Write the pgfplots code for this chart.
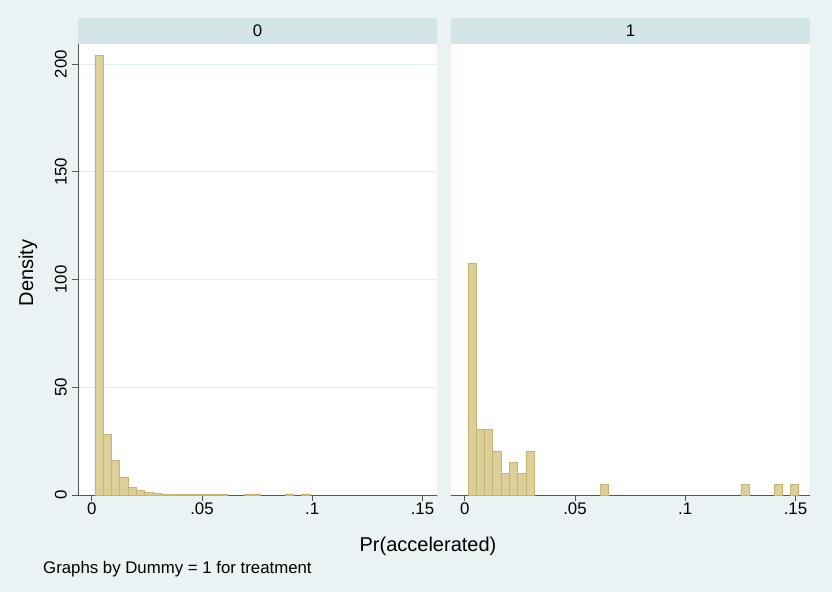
\documentclass[border=0pt]{standalone}
\usepackage{fontspec}
\setmainfont{Liberation Sans}
\usepackage{pgfplots}
\pgfplotsset{compat=1.18}
\definecolor{bg}{HTML}{EAF2F3}
\definecolor{strip}{HTML}{D4E5E8}
\definecolor{gridc}{HTML}{E4EEEF}
\definecolor{barfill}{HTML}{DCCF9A}
\definecolor{baredge}{HTML}{C6B572}
\definecolor{axc}{HTML}{555555}

\pgfplotsset{panel/.style={
  scale only axis, width=359pt, height=451pt, anchor=south west,
  xmin=-0.0062, xmax=0.1566, ymin=0, ymax=209.3,
  axis background/.style={fill=white},
  xtick={0,0.05,0.1,0.15}, xticklabels={0,.05,.1,.15},
  ytick={0,50,100,150,200},
  ymajorgrids, grid style={gridc, line width=1pt},
  tick align=outside, major tick length=6pt,
  tick style={axc, line width=0.8pt},
  axis line style={axc, line width=1pt, -},
  /pgf/number format/assume math mode=true,
  ticklabel style={font=\fontsize{16.8}{20}\selectfont},
  xticklabel style={inner sep=2pt},
  ybar, bar width=0.00375, bar shift=0pt,
}}
\pgfplotsset{histbar/.style={fill=barfill, draw=baredge, line width=0.6pt}}

\begin{document}
\begin{tikzpicture}
\fill[bg] (0,0) rectangle (832pt,592pt);

% Panel 0
\begin{axis}[panel, name=L, at={(78pt,97pt)},
  axis x line*=bottom, axis y line*=left,
  yticklabel style={rotate=90, anchor=south, inner sep=5pt}]
\addplot[histbar] coordinates {
(0.003375,204) (0.007125,28.2) (0.010875,16.2) (0.014625,8.4)
(0.018375,3.4) (0.022125,2.3) (0.025875,1.1) (0.029625,0.7)
(0.033375,0.5) (0.037125,0.4) (0.040875,0.4) (0.044625,0.4)
(0.048375,0.4) (0.052125,0.4) (0.055875,0.4) (0.059625,0.4)
(0.070875,0.5) (0.074625,0.5) (0.089625,0.5) (0.097125,0.5)
};
\end{axis}

% Panel 1
\begin{axis}[panel, name=R, at={(451pt,97pt)},
  axis x line*=bottom, axis y line=none,
  yticklabels={}, ytick style={draw=none}]
\addplot[histbar] coordinates {
(0.003375,107.5) (0.007125,30.6) (0.010875,30.6) (0.014625,20.4)
(0.018375,10.2) (0.022125,15.3) (0.025875,10.2) (0.029625,20.4)
(0.063375,5.1) (0.127125,5.1) (0.142125,5.1) (0.149625,5.1)
};
\end{axis}

% strip headers
\fill[strip] (L.north west) rectangle ([yshift=26pt]L.north east);
\fill[strip] (R.north west) rectangle ([yshift=26pt]R.north east);
\node[font=\fontsize{16.8}{20}\selectfont] at ([yshift=13pt]L.north) {0};
\node[font=\fontsize{16.8}{20}\selectfont] at ([yshift=13pt]R.north) {1};

% titles
\node[rotate=90, font=\fontsize{20}{24}\selectfont] at (28pt,319pt) {Density};
\node[font=\fontsize{20}{24}\selectfont] at (428pt,46pt) {Pr(accelerated)};
\node[anchor=west, font=\fontsize{16.8}{20}\selectfont, inner sep=0pt] at (43pt,22.7pt) {Graphs by Dummy = 1 for treatment};

\pgfresetboundingbox
\path (0,0) rectangle (832pt,592pt);
\end{tikzpicture}
\end{document}
